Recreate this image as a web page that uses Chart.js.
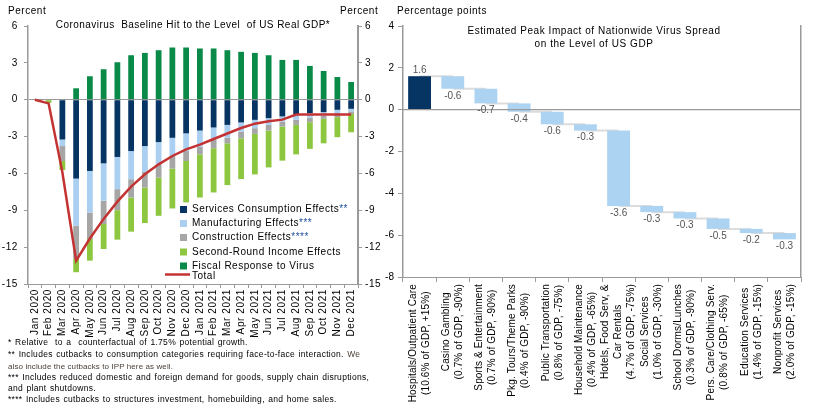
<!DOCTYPE html>
<html>
<head>
<meta charset="utf-8">
<script src="https://cdn.jsdelivr.net/npm/chart.js@4.4.1/dist/chart.umd.min.js"></script>
<style>
  html, body { margin: 0; padding: 0; background: #fff; }
  body { width: 816px; height: 411px; position: relative; overflow: hidden;
         font-family: 'Liberation Sans', Arial, sans-serif; color: #000; }
  .abs { position: absolute; white-space: pre; }
  #leftBox { position: absolute; left: 0; top: 0; width: 400px; height: 340px; }
  #rightBox { position: absolute; left: 380px; top: 0; width: 436px; height: 411px; }
  .unit { font-size: 10px; line-height: 12px; top: 5px; letter-spacing: 0.55px; }
  .title { font-size: 10px; line-height: 13px; transform: translateX(-50%); text-align: center; letter-spacing: 0.45px; }
  .note { font-size: 8.5px; line-height: 10px; left: 8px; letter-spacing: 0.3px; word-spacing: 0.8px; }
  .soft { color: #4a3f35; font-size: 8px; letter-spacing: 0.1px; word-spacing: 0; }
</style>
</head>
<body>
<div id="leftBox"><canvas id="gdpHit" width="400" height="340"></canvas></div>
<div id="rightBox"><canvas id="peakImpact" width="436" height="411"></canvas></div>

<div class="abs unit" style="left:8px">Percent</div>
<div class="abs unit" style="left:340px">Percent</div>
<div class="abs unit" style="left:397px">Percentage points</div>
<div class="abs title" style="left:193px; top:18px">Coronavirus  Baseline Hit to the Level  of US Real GDP*</div>
<div class="abs title" style="left:594px; top:24px; letter-spacing:0.55px">Estimated Peak Impact of Nationwide Virus Spread
on the Level of US GDP</div>

<div class="abs note" style="top:337px">* Relative  to a  counterfactual of 1.75% potential growth.</div>
<div class="abs note" style="top:349px">** Includes cutbacks to consumption categories requiring face-to-face interaction. <span class="soft" style="font-size:8.5px">We</span></div>
<div class="abs note soft" style="top:362px">also include the cutbacks to IPP here as well.</div>
<div class="abs note" style="top:372px">*** Includes reduced domestic and foreign demand for goods, supply chain disruptions,</div>
<div class="abs note" style="top:383px">and plant shutdowns.</div>
<div class="abs note" style="top:394px">**** Includes cutbacks to structures investment, homebuilding, and home sales.</div>

<script>
// ---- Left chart data (percent, contribution to level of real GDP) ----
var months = ['Jan 2020', 'Feb 2020', 'Mar 2020', 'Apr 2020', 'May 2020', 'Jun 2020',
  'Jul 2020', 'Aug 2020', 'Sep 2020', 'Oct 2020', 'Nov 2020', 'Dec 2020',
  'Jan 2021', 'Feb 2021', 'Mar 2021', 'Apr 2021', 'May 2021', 'Jun 2021',
  'Jul 2021', 'Aug 2021', 'Sep 2021', 'Oct 2021', 'Nov 2021', 'Dec 2021'];
var seriesNames = ['Services Consumption Effects**', 'Manufacturing Effects***',
  'Construction Effects****', 'Second-Round Income Effects', 'Fiscal Response to Virus', 'Total'];
var services = [0, 0, -3.24, -6.42, -5.8, -5.18, -4.66, -4.18, -3.77, -3.45, -3.1, -2.74,
  -2.51, -2.26, -2.05, -1.85, -1.64, -1.5, -1.36, -1.17, -1.09, -1.01, -0.82, -0.74];
var manufacturing = [0, 0, -0.53, -3.84, -3.38, -3.05, -2.62, -2.29, -2.11, -1.81, -1.48, -1.44,
  -1.31, -1.01, -1.03, -0.74, -0.68, -0.55, -0.41, -0.47, -0.36, -0.3, -0.27, -0.21];
var construction = [0, 0, -1.22, -2.7, -2.16, -1.89, -1.71, -1.49, -1.27, -1.08, -1.03, -0.81,
  -0.63, -0.68, -0.47, -0.55, -0.46, -0.46, -0.41, -0.41, -0.38, -0.24, -0.33, -0.2];
var secondRound = [0, -0.25, -0.73, -1.08, -1.76, -2.03, -2.4, -2.78, -2.89, -3.11, -3.24, -3.37,
  -3.51, -3.6, -3.4, -3.32, -3.3, -3.0, -2.78, -2.4, -2.17, -2.0, -1.63, -1.5];
var fiscal = [0, 0, 0, 0.93, 1.91, 2.48, 3.05, 3.62, 3.81, 4.03, 4.25, 4.25,
  4.17, 4.17, 4.03, 3.9, 3.81, 3.62, 3.24, 3.24, 2.75, 2.34, 1.85, 1.44];
var total = [0, -0.3, -5.9, -13.1, -11.3, -9.7, -8.3, -7.07, -6.07, -5.26, -4.58, -4.04,
  -3.65, -3.2, -2.75, -2.3, -1.95, -1.75, -1.62, -1.2, -1.2, -1.2, -1.2, -1.2];
var leftTicks = { min: -15, max: 6, step: 3 };

// ---- Right chart data (percentage points) ----
var impactLabels = [
  ['Hospitals/Outpatient Care', '(10.6% of GDP, +15%)'],
  ['Casino Gambling', '(0.7% of GDP, -90%)'],
  ['Sports & Entertainment', '(0.7% of GDP, -90%)'],
  ['Pkg. Tours/Theme Parks', '(0.4% of GDP, -90%)'],
  ['Public Transportation', '(0.8% of GDP, -75%)'],
  ['Household Maintenance', '(0.4% of GDP, -65%)'],
  ['Hotels, Food Serv, &', 'Car Rentals', '(4.7% of GDP, -75%)'],
  ['Social Services', '(1.0% of GDP, -30%)'],
  ['School Dorms/Lunches', '(0.3% of GDP, -90%)'],
  ['Pers. Care/Clothing Serv.', '(0.8% of GDP, -65%)'],
  ['Education Services', '(1.4% of GDP, -15%)'],
  ['Nonprofit Services', '(2.0% of GDP, -15%)']
];
var impactValues = [1.6, -0.6, -0.7, -0.4, -0.6, -0.3, -3.6, -0.3, -0.3, -0.5, -0.2, -0.3];
var rightTicks = { min: -8, max: 4, step: 2 };

(function () {
  'use strict';

  var FONT = '"Liberation Sans", Arial, sans-serif';
  var AXIS = '#9a9a9a';
  Chart.defaults.font.family = FONT;
  Chart.defaults.font.size = 10;
  Chart.defaults.color = '#000';

  var colors = ['#063463', '#aacff0', '#a6a6a6', '#8dc63f', '#0a8a48'];
  var lineRed = '#c43333';

  function zeroOnly(c) { return c.tick && c.tick.value === 0 ? AXIS : 'rgba(0,0,0,0)'; }

  // Slightly looser text, like the original export.
  var spacing = {
    id: 'spacing',
    beforeDraw: function (chart, args, opts) {
      if ('letterSpacing' in chart.ctx) chart.ctx.letterSpacing = opts.px || '0px';
    }
  };

  // Legend drawn inside the plot, with blue footnote asterisks.
  var boxLegend = {
    id: 'boxLegend',
    afterDraw: function (chart) {
      var ctx = chart.ctx;
      var rows = [209.5, 223.5, 237.5, 252, 266];
      ctx.save();
      ctx.font = '10px ' + FONT;
      if ('letterSpacing' in ctx) ctx.letterSpacing = '0.5px';
      ctx.textBaseline = 'middle';
      chart.data.datasets.forEach(function (ds, i) {
        if (ds.type === 'line') {
          ctx.strokeStyle = ds.borderColor;
          ctx.lineWidth = 2.5;
          ctx.beginPath(); ctx.moveTo(165, 274.5); ctx.lineTo(190, 274.5); ctx.stroke();
          ctx.fillStyle = '#000';
          ctx.fillText(ds.label, 192, 276.5);
          return;
        }
        var y = rows[i];
        ctx.fillStyle = ds.backgroundColor;
        ctx.fillRect(180, y - 3.5, 7, 7);
        var star = ds.label.indexOf('*');
        var main = star < 0 ? ds.label : ds.label.slice(0, star);
        ctx.fillStyle = '#000';
        ctx.fillText(main, 192, y);
        if (star >= 0) {
          ctx.fillStyle = '#1f4e9c';
          ctx.fillText(ds.label.slice(star), 192 + ctx.measureText(main).width, y);
        }
      });
      ctx.restore();
    }
  };

  var bars = [services, manufacturing, construction, secondRound, fiscal].map(function (d, i) {
    return { label: seriesNames[i], data: d, backgroundColor: colors[i], order: 1, stack: 'parts' };
  });
  bars.push({ type: 'line', label: seriesNames[5], data: total, borderColor: lineRed,
    borderWidth: 2.5, pointRadius: 0, tension: 0, order: 0, stack: 'total', yAxisID: 'y' });

  new Chart(document.getElementById('gdpHit'), {
    type: 'bar',
    data: { labels: months, datasets: bars },
    options: {
      responsive: false,
      animation: false,
      layout: { padding: { top: 26 } },
      datasets: { bar: { categoryPercentage: 1, barPercentage: 0.42 } },
      plugins: { legend: { display: false }, tooltip: { enabled: false }, spacing: { px: '0.6px' } },
      scales: {
        x: {
          stacked: true,
          ticks: { minRotation: 90, maxRotation: 90, autoSkip: false, padding: 1 },
          grid: { offset: true, drawOnChartArea: false, tickLength: 4, tickColor: AXIS },
          border: { color: AXIS },
          afterFit: function (s) { s.height = 56; }
        },
        y: {
          stacked: true,
          min: leftTicks.min, max: leftTicks.max,
          ticks: { stepSize: leftTicks.step, padding: 6 },
          grid: { color: zeroOnly, tickColor: AXIS, tickLength: 4 },
          border: { color: AXIS, width: 1.5 },
          afterFit: function (s) { s.width = 28; }
        },
        y2: {
          position: 'right',
          min: leftTicks.min, max: leftTicks.max,
          ticks: { stepSize: leftTicks.step, padding: 3 },
          grid: { drawOnChartArea: false, tickColor: AXIS, tickLength: 4 },
          border: { color: AXIS, width: 2 },
          afterFit: function (s) { s.width = 42; }
        }
      }
    },
    plugins: [spacing, boxLegend]
  });

  // ---- Waterfall ----
  var starts = [], ends = [], run = 0;
  impactValues.forEach(function (v) { starts.push(run); run += v; ends.push(run); });

  var waterfall = {
    id: 'waterfall',
    beforeDatasetsDraw: function (chart) {
      var meta = chart.getDatasetMeta(0), ys = chart.scales.y, ctx = chart.ctx;
      ctx.save();
      ctx.strokeStyle = '#dcdcdc';
      ctx.lineWidth = 2;
      for (var i = 0; i < meta.data.length - 1; i++) {
        var y = ys.getPixelForValue(ends[i]);
        ctx.beginPath(); ctx.moveTo(meta.data[i].x, y); ctx.lineTo(meta.data[i + 1].x, y); ctx.stroke();
      }
      ctx.restore();
    },
    afterDatasetsDraw: function (chart) {
      var meta = chart.getDatasetMeta(0), ys = chart.scales.y, ctx = chart.ctx, area = chart.chartArea;
      ctx.save();
      // category axis on top of the bars
      var y0 = ys.getPixelForValue(0);
      ctx.strokeStyle = AXIS; ctx.lineWidth = 1.2;
      ctx.beginPath(); ctx.moveTo(area.left, y0); ctx.lineTo(area.right, y0); ctx.stroke();
      ctx.font = '10px ' + FONT;
      ctx.fillStyle = '#555';
      ctx.textAlign = 'center';
      impactValues.forEach(function (v, i) {
        var y = ys.getPixelForValue(ends[i]);
        if (v > 0) { ctx.textBaseline = 'bottom'; ctx.fillText(v.toFixed(1), meta.data[i].x, y - 1); }
        else { ctx.textBaseline = 'top'; ctx.fillText(v.toFixed(1), meta.data[i].x, y + 2); }
      });
      ctx.restore();
    },
    afterDraw: function (chart) {
      // rotated multi-line category labels, lines centred on each other
      var xs = chart.scales.x, ctx = chart.ctx;
      ctx.save();
      ctx.font = '10px ' + FONT;
      if ('letterSpacing' in ctx) ctx.letterSpacing = '0.15px';
      ctx.fillStyle = '#000';
      ctx.textAlign = 'center';
      ctx.textBaseline = 'middle';
      impactLabels.forEach(function (lines, i) {
        var x = xs.getPixelForValue(i);
        var w = Math.max.apply(null, lines.map(function (l) { return ctx.measureText(l).width; }));
        var cy = xs.top + 7 + w / 2;
        lines.forEach(function (l, j) {
          ctx.save();
          ctx.translate(x + (j - (lines.length - 1) / 2) * 13, cy);
          ctx.rotate(-Math.PI / 2);
          ctx.fillText(l, 0, 0);
          ctx.restore();
        });
      });
      ctx.restore();
    }
  };

  new Chart(document.getElementById('peakImpact'), {
    type: 'bar',
    data: {
      labels: impactLabels,
      datasets: [{
        label: 'Peak impact',
        data: starts.map(function (s, i) { return [s, ends[i]]; }),
        backgroundColor: impactValues.map(function (v, i) { return i === 0 ? '#063463' : '#acd3f1'; }),
        categoryPercentage: 1,
        barPercentage: 0.69
      }]
    },
    options: {
      responsive: false,
      animation: false,
      layout: { padding: { top: 26 } },
      plugins: { legend: { display: false }, tooltip: { enabled: false } },
      scales: {
        x: {
          ticks: { display: false },
          grid: { offset: true, drawOnChartArea: false, tickLength: 5, tickColor: AXIS },
          border: { color: AXIS },
          afterFit: function (s) { s.height = 134; }
        },
        y: {
          min: rightTicks.min, max: rightTicks.max,
          ticks: { stepSize: rightTicks.step, padding: 4 },
          grid: { color: 'rgba(0,0,0,0)', tickColor: AXIS, tickLength: 5 },
          border: { color: AXIS, width: 1.5 },
          afterFit: function (s) { s.width = 23; }
        },
        y2: {
          position: 'right',
          min: rightTicks.min, max: rightTicks.max,
          ticks: { display: false },
          grid: { drawOnChartArea: false, drawTicks: false },
          border: { color: AXIS, width: 1.5 },
          afterFit: function (s) { s.width = 15; }
        }
      }
    },
    plugins: [waterfall]
  });
})();
</script>
</body>
</html>
